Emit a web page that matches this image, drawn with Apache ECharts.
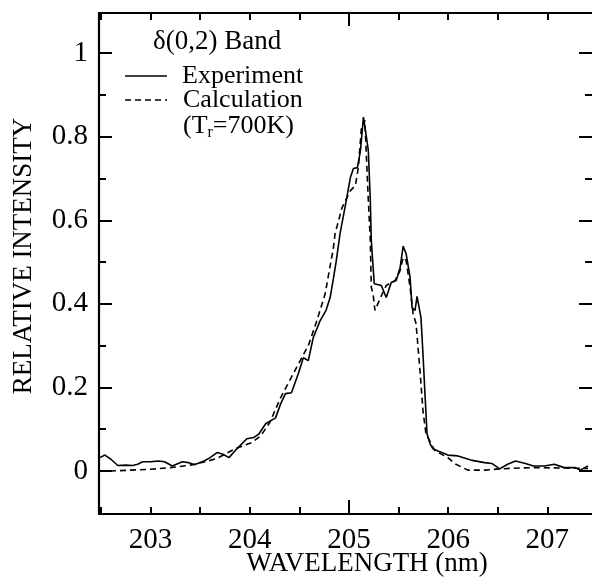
<!DOCTYPE html>
<html>
<head>
<meta charset="utf-8">
<script src="https://cdn.jsdelivr.net/npm/echarts@6/dist/echarts.min.js"></script>
<style>
html,body{margin:0;padding:0;background:#fff;}
#chart{width:592px;height:581px;}
</style>
</head>
<body>
<div id="chart"></div>
<script>
// ---- data ----
const expWavelength = [202.49,202.54,202.60,202.67,202.75,202.82,202.87,202.92,203.00,203.08,203.14,203.22,203.32,203.38,203.44,203.54,203.60,203.67,203.73,203.79,203.87,203.97,204.04,204.09,204.16,204.26,204.31,204.36,204.42,204.49,204.54,204.59,204.64,204.71,204.77,204.81,204.84,204.87,204.91,204.96,205.015,205.045,205.085,205.116,205.146,205.152,205.175,205.195,205.215,205.225,205.255,205.275,205.326,205.376,205.426,205.476,205.516,205.546,205.576,205.616,205.636,205.666,205.686,205.726,205.746,205.766,205.787,205.817,205.847,205.897,205.997,206.098,206.228,206.368,206.44,206.519,206.599,206.679,206.779,206.859,206.97,207.07,207.17,207.28,207.33,207.41];
const expIntensity  = [0.032,0.038,0.028,0.013,0.014,0.013,0.016,0.022,0.022,0.024,0.022,0.012,0.022,0.020,0.015,0.024,0.032,0.044,0.040,0.032,0.053,0.077,0.080,0.088,0.113,0.127,0.160,0.185,0.187,0.233,0.271,0.264,0.319,0.360,0.385,0.415,0.456,0.500,0.568,0.631,0.703,0.724,0.726,0.767,0.847,0.851,0.800,0.767,0.648,0.552,0.448,0.444,0.444,0.415,0.451,0.456,0.487,0.538,0.520,0.463,0.391,0.384,0.418,0.367,0.280,0.185,0.089,0.065,0.053,0.048,0.038,0.036,0.026,0.020,0.018,0.005,0.016,0.024,0.018,0.012,0.012,0.016,0.008,0.008,0.002,0.012];

const calcWavelength = [202.49,202.60,202.80,203.00,203.20,203.40,203.55,203.67,203.85,204.02,204.11,204.20,204.31,204.49,204.59,204.67,204.76,204.82,204.84,204.86,204.93,205.015,205.065,205.095,205.126,205.16,205.195,205.215,205.225,205.245,205.262,205.32,205.376,205.466,205.516,205.546,205.576,205.616,205.646,205.676,205.716,205.746,205.776,205.867,205.997,206.078,206.198,206.368,206.519,206.709,206.879,207.41];
const calcIntensity  = [0.000,0.000,0.002,0.004,0.008,0.014,0.022,0.030,0.053,0.068,0.084,0.115,0.175,0.256,0.300,0.355,0.424,0.504,0.528,0.568,0.630,0.671,0.683,0.727,0.823,0.839,0.648,0.552,0.440,0.420,0.384,0.416,0.444,0.456,0.480,0.511,0.504,0.440,0.377,0.353,0.240,0.144,0.089,0.048,0.032,0.016,0.002,0.002,0.005,0.007,0.008,0.006];

const xLabelValues = [203,204,205,206,207];
const xTickValues  = [202.5,203,203.5,204,204.5,205.5,206,206.5,207];
const xLongTick    = [205];
const yLabelValues = [0,0.2,0.4,0.6,0.8,1];
const yMinorTicks  = [0.1,0.3,0.5,0.7,0.9];

const FONT = '"Liberation Serif","Times New Roman",serif';
const X_MIN = 202.48, X_MAX = 207.45, Y_MIN = -0.103, Y_MAX = 1.096;

const chart = echarts.init(document.getElementById('chart'), null, {renderer:'canvas'});

function xAx(pos, ticks, len, showLine, showLabel){
  return {
    type:'value', position:pos, min:X_MIN, max:X_MAX,
    axisLine:{show:showLine, onZero:false, lineStyle:{color:'#000', width:2.2}},
    axisTick:{show:true, inside:true, length:len, customValues:ticks, lineStyle:{color:'#000', width:2}},
    axisLabel:{show:showLabel, customValues:xLabelValues, color:'#000', fontFamily:FONT, fontSize:29, margin:12},
    splitLine:{show:false}
  };
}
function yAx(pos, ticks, len, showLine, showLabel){
  return {
    type:'value', position:pos, min:Y_MIN, max:Y_MAX,
    axisLine:{show:showLine, onZero:false, lineStyle:{color:'#000', width:2.2}},
    axisTick:{show:true, inside:true, length:len, customValues:ticks, lineStyle:{color:'#000', width:2}},
    axisLabel:{show:showLabel, customValues:yLabelValues, color:'#000', fontFamily:FONT, fontSize:29, margin:11},
    splitLine:{show:false}
  };
}

const option = {
  backgroundColor:'#fff',
  animation:false,
  grid:{left:99, top:13, right:-3, bottom:67, containLabel:false},
  xAxis:[
    xAx('bottom', xTickValues, 7, true, true),
    xAx('bottom', xLongTick, 14, false, false),
    xAx('top', xTickValues, 7, true, false),
    xAx('top', xLongTick, 13, false, false)
  ],
  yAxis:[
    yAx('left', yLabelValues, 13, true, true),
    yAx('left', yMinorTicks, 7, false, false),
    yAx('right', yLabelValues, 13, false, false),
    yAx('right', yMinorTicks, 7, false, false)
  ],
  series:[
    {
      name:'Experiment', type:'line', xAxisIndex:0, yAxisIndex:0,
      showSymbol:false, smooth:false, clip:true,
      lineStyle:{color:'#000', width:1.6, type:'solid'},
      data: expWavelength.map((w,i)=>[w, expIntensity[i]])
    },
    {
      name:'Calculation', type:'line', xAxisIndex:0, yAxisIndex:0,
      showSymbol:false, smooth:false, clip:true,
      lineStyle:{color:'#000', width:1.6, type:[6,4]},
      data: calcWavelength.map((w,i)=>[w, calcIntensity[i]])
    }
  ],
  graphic:[
    {type:'text', left:153, top:28, style:{text:'δ(0,2) Band', font:'27px '+FONT, fill:'#000'}},
    {type:'line', shape:{x1:125, y1:76, x2:167, y2:76}, style:{stroke:'#000', lineWidth:1.6}},
    {type:'text', left:182, top:63, style:{text:'Experiment', font:'26px '+FONT, fill:'#000'}},
    {type:'line', shape:{x1:125, y1:100, x2:167, y2:100}, style:{stroke:'#000', lineWidth:1.6, lineDash:[6,4]}},
    {type:'text', left:183, top:87, style:{text:'Calculation', font:'26px '+FONT, fill:'#000'}},
    {type:'text', left:183, top:113, style:{
      text:'{a|(T}{s|r}{a|=700K)}',
      rich:{
        a:{fontFamily:FONT, fontSize:26, color:'#000', lineHeight:30},
        s:{fontFamily:FONT, fontSize:16, color:'#000', verticalAlign:'bottom', lineHeight:30, padding:[10,0,0,0]}
      }
    }},
    {type:'text', x:367, y:564, style:{text:'WAVELENGTH (nm)', font:'27px '+FONT, fill:'#000', align:'center', verticalAlign:'middle'}},
    {type:'text', x:24, y:256, rotation:Math.PI/2, style:{text:'RELATIVE INTENSITY', font:'27px '+FONT, fill:'#000', align:'center', verticalAlign:'middle'}}
  ]
};
chart.setOption(option);
</script>
</body>
</html>
